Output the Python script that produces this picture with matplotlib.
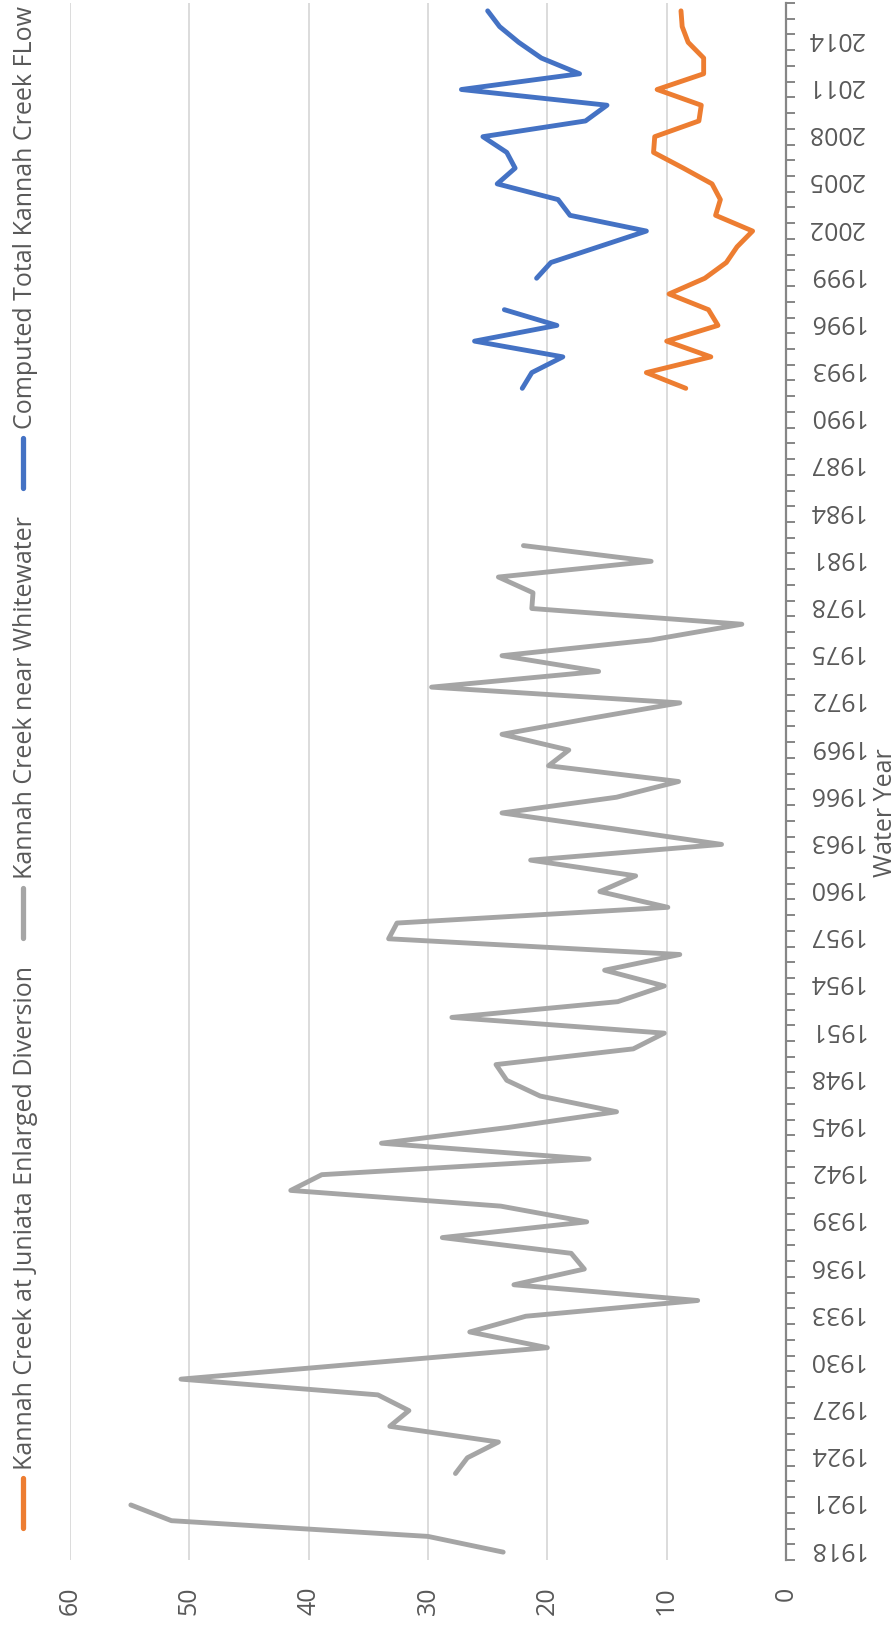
import numpy as np
import matplotlib
matplotlib.use("Agg")
import matplotlib.pyplot as plt
from matplotlib.lines import Line2D
from matplotlib.transforms import ScaledTranslation

plt.rcParams['font.family'] = ['Open Sans', 'DejaVu Sans']

# ---------------- data ----------------
whitewater_years = list(range(1918, 1983))
whitewater_flow = [
    23.7, 30.0, 51.5, 54.9, np.nan, 27.7, 26.7, 24.1, 33.2, 31.6,   # 1918-1927
    34.2, 50.7, 35.4, 20.0, 26.5, 21.8, 7.4, 22.8, 16.9, 18.0,      # 1928-1937
    28.8, 16.7, 23.9, 41.5, 38.9, 16.5, 33.9, 23.3, 14.2, 20.6,     # 1938-1947
    23.4, 24.3, 12.8, 10.2, 28.0, 14.1, 10.2, 15.2, 8.9, 33.3,      # 1948-1957
    32.6, 9.9, 15.6, 12.6, 21.4, 5.4, 14.5, 23.8, 14.2, 9.0,        # 1958-1967
    19.9, 18.2, 23.8, 16.5, 8.9, 29.7, 15.7, 23.8, 11.3, 3.7,       # 1968-1977
    21.3, 21.2, 24.1, 11.3, 22.0,                                   # 1978-1982
]

recent_years = list(range(1992, 2017))
juniata_flow = [
    8.4, 11.7, 6.3, 10.0, 5.7, 6.5, 9.8, 6.8, 5.0, 4.1,             # 1992-2001
    2.8, 5.9, 5.5, 6.2, 8.6, 11.1, 11.0, 7.3, 7.1, 10.8,            # 2002-2011
    6.9, 6.9, 8.2, 8.7, 8.8,                                        # 2012-2016
]
total_flow = [
    22.1, 21.3, 18.7, 26.1, 19.2, 23.6, np.nan, 20.9, 19.7, 15.7,   # 1992-2001
    11.7, 18.1, 19.1, 24.2, 22.7, 23.4, 25.4, 16.8, 15.0, 27.2,     # 2002-2011
    17.3, 20.5, 22.4, 24.0, 25.0,                                   # 2012-2016
]

series_names = [
    "Kannah Creek at Juniata Enlarged Diversion",
    "Kannah Creek near Whitewater",
    "Computed Total Kannah Creek FLow",
]
series_colors = ["#ED7D31", "#A5A5A5", "#4472C4"]

value_ticks = [0, 10, 20, 30, 40, 50, 60]
year_labels = list(range(1918, 2015, 3))
axis_title = "Water Year"

# ---------------- figure ----------------
W, H = 895, 1629
fig = plt.figure(figsize=(W / 100, H / 100), dpi=100)

def fx(x):
    return x / W

def fy(y):
    return 1 - y / H

ax_left, ax_right, ax_top, ax_bottom = 70, 786, 3, 1560
ax = fig.add_axes([fx(ax_left), fy(ax_bottom), (ax_right - ax_left) / W, (ax_bottom - ax_top) / H])

text_color = "#595959"
axis_color = "#868686"
fs = 18
lw = 3.5

ax.plot(juniata_flow, recent_years, color=series_colors[0], lw=lw,
        solid_capstyle="round", solid_joinstyle="round", zorder=3)
ax.plot(whitewater_flow, whitewater_years, color=series_colors[1], lw=lw,
        solid_capstyle="round", solid_joinstyle="round", zorder=3)
ax.plot(total_flow, recent_years, color=series_colors[2], lw=lw,
        solid_capstyle="round", solid_joinstyle="round", zorder=3)

ax.set_xlim(60, 0)
ax.set_ylim(1917.5, 2016.5)

for s in ["left", "top", "bottom"]:
    ax.spines[s].set_visible(False)
ax.spines["right"].set_color(axis_color)
ax.spines["right"].set_linewidth(1.6)
ax.spines["right"].set_zorder(4)

# value axis (bottom)
ax.set_xticks(value_ticks)
ax.set_xticklabels([str(v) for v in value_ticks], rotation=90)
ax.tick_params(axis="x", length=0, pad=19, labelsize=fs, labelcolor=text_color)
ax.grid(axis="x", color="#D9D9D9", lw=1.3)
ax.set_axisbelow(True)

# year axis (right)
ax.yaxis.tick_right()
ax.set_yticks(year_labels)
ax.set_yticklabels([str(y) for y in year_labels])
ax.set_yticks(np.arange(1917.5, 2017.0, 1.0), minor=True)
ax.tick_params(axis="y", which="major", length=0, pad=15, labelsize=fs, labelcolor=text_color)
ax.tick_params(axis="y", which="minor", length=6.5, width=1.4, color=axis_color, direction="out")
shift_up = ScaledTranslation(0, 4 / 100, fig.dpi_scale_trans)
for lab in ax.get_yticklabels():
    lab.set_rotation(180)
    lab.set_va("center")
    lab.set_ha("left")
    lab.set_transform(lab.get_transform() + shift_up)

# axis title
fig.text(fx(892), fy(813), axis_title, rotation=90, rotation_mode="anchor",
         ha="center", va="baseline", fontsize=fs, color=text_color)

# manual legend (rotated)
legend_items = [
    (series_names[0], series_colors[0], 1530, 1475, 1470),
    (series_names[1], series_colors[1], 940, 885, 879),
    (series_names[2], series_colors[2], 490, 435, 429),
]
for name, col, y0, y1, ty in legend_items:
    fig.add_artist(Line2D([fx(23), fx(23)], [fy(y0 - 2.5), fy(y1 + 2.5)],
                          transform=fig.transFigure, color=col, lw=3.8,
                          solid_capstyle="round"))
    fig.text(fx(32), fy(ty), name, rotation=90, rotation_mode="anchor",
             ha="left", va="baseline", fontsize=fs, color=text_color)

fig.savefig("out.png", dpi=100)
